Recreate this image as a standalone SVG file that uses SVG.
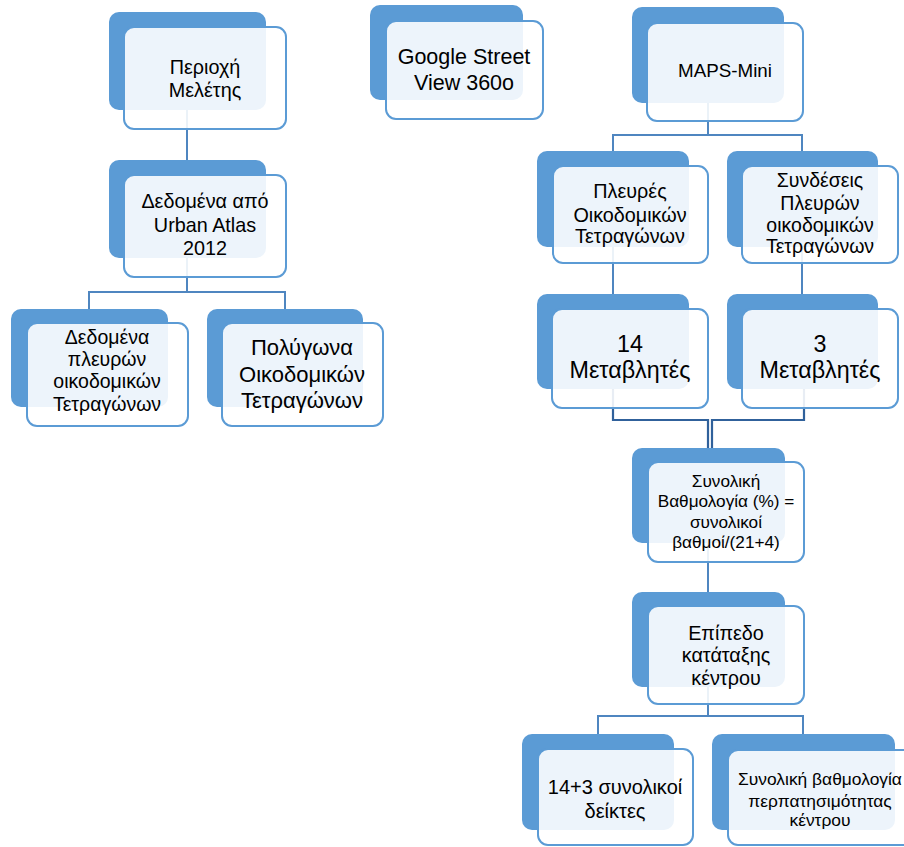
<svg xmlns="http://www.w3.org/2000/svg" width="904" height="847" viewBox="0 0 904 847">
<style>
.bk{fill:#5B9BD5;}
.fr{fill:#FFFFFF;fill-opacity:0.89;stroke:#5B9BD5;stroke-width:2;}
.cn{fill:none;stroke:#4F86C0;stroke-width:2;}
.cd{fill:none;stroke:#30619B;stroke-width:2.2;}
text{font-family:"Liberation Sans","Noto Sans",Arial,sans-serif;fill:#000;text-anchor:middle;}
</style>
<rect width="904" height="847" fill="#FFFFFF"/>
<g id="connectors">
<path class="cn" d="M187,110 V160"/>
<path class="cn" d="M187,258 V292 M89,309 V292 H285 V309"/>
<path class="cn" d="M708,103 V135 M613,151 V135 H802 V151"/>
<path class="cn" d="M613,247 V294 M802,247 V294"/>
<path class="cd" d="M613,389 V420 H708 V448"/>
<path class="cd" d="M804,389 V420 H712 V448"/>
<path class="cn" d="M708,543 V592"/>
<path class="cn" d="M708,687 V716 M598,734 V716 H803 V734"/>
</g>
<g id="n1">
<rect class="bk" x="109" y="12" width="157" height="98" rx="10"/>
<rect class="fr" x="124" y="27" width="162" height="102" rx="10"/>
<text font-size="19.8"><tspan x="205" y="74">Περιοχή</tspan><tspan x="205" y="97">Μελέτης</tspan></text>
</g>
<g id="n2">
<rect class="bk" x="109" y="160" width="157" height="98" rx="10"/>
<rect class="fr" x="124" y="175" width="162" height="102" rx="10"/>
<text font-size="19.8"><tspan x="205" y="208">Δεδομένα από</tspan><tspan x="205" y="232">Urban Atlas</tspan><tspan x="205" y="255">2012</tspan></text>
</g>
<g id="n3">
<rect class="bk" x="11" y="309" width="157" height="98" rx="10"/>
<rect class="fr" x="27" y="323" width="161" height="103" rx="10"/>
<text font-size="19.5"><tspan x="107" y="344">Δεδομένα</tspan><tspan x="107" y="366">πλευρών</tspan><tspan x="107" y="388">οικοδομικών</tspan><tspan x="107" y="411">Τετραγώνων</tspan></text>
</g>
<g id="n4">
<rect class="bk" x="207" y="309" width="156" height="98" rx="10"/>
<rect class="fr" x="222" y="323" width="161" height="103" rx="10"/>
<text font-size="22"><tspan x="302" y="355">Πολύγωνα</tspan><tspan x="302" y="382">Οικοδομικών</tspan><tspan x="302" y="408">Τετραγώνων</tspan></text>
</g>
<g id="n5">
<rect class="bk" x="370" y="5" width="153" height="95" rx="10"/>
<rect class="fr" x="386" y="21" width="157" height="98" rx="10"/>
<text font-size="21.5"><tspan x="464" y="64">Google Street</tspan><tspan x="464" y="90">View 360o</tspan></text>
</g>
<g id="n6">
<rect class="bk" x="632" y="7" width="152" height="96" rx="10"/>
<rect class="fr" x="647" y="23" width="156" height="98" rx="10"/>
<text font-size="18.8"><tspan x="725" y="77">MAPS-Mini</tspan></text>
</g>
<g id="n7">
<rect class="bk" x="537" y="151" width="152" height="96" rx="10"/>
<rect class="fr" x="553" y="166" width="155" height="97" rx="10"/>
<text font-size="19.8"><tspan x="630" y="198">Πλευρές</tspan><tspan x="630" y="222">Οικοδομικών</tspan><tspan x="630" y="243">Τετραγώνων</tspan></text>
</g>
<g id="n8">
<rect class="bk" x="727" y="151" width="151" height="96" rx="10"/>
<rect class="fr" x="742" y="166" width="156" height="97" rx="10"/>
<text font-size="19.5"><tspan x="820" y="187">Συνδέσεις</tspan><tspan x="820" y="210">Πλευρών</tspan><tspan x="820" y="232">οικοδομικών</tspan><tspan x="820" y="253">Τετραγώνων</tspan></text>
</g>
<g id="n9">
<rect class="bk" x="537" y="294" width="152" height="95" rx="10"/>
<rect class="fr" x="552" y="309" width="156" height="99" rx="10"/>
<text font-size="23.3"><tspan x="630" y="352">14</tspan><tspan x="630" y="378">Μεταβλητές</tspan></text>
</g>
<g id="n10">
<rect class="bk" x="727" y="294" width="151" height="95" rx="10"/>
<rect class="fr" x="742" y="309" width="156" height="99" rx="10"/>
<text font-size="23.3"><tspan x="820" y="352">3</tspan><tspan x="820" y="378">Μεταβλητές</tspan></text>
</g>
<g id="n11">
<rect class="bk" x="632" y="448" width="153" height="95" rx="10"/>
<rect class="fr" x="648" y="462" width="156" height="100" rx="10"/>
<text font-size="17.2"><tspan x="726" y="487">Συνολική</tspan><tspan x="726" y="507">Βαθμολογία (%) =</tspan><tspan x="726" y="528">συνολικοί</tspan><tspan x="726" y="548">βαθμοί/(21+4)</tspan></text>
</g>
<g id="n12">
<rect class="bk" x="632" y="592" width="153" height="95" rx="10"/>
<rect class="fr" x="648" y="606" width="156" height="98" rx="10"/>
<text font-size="19.8"><tspan x="726" y="640">Επίπεδο</tspan><tspan x="726" y="662">κατάταξης</tspan><tspan x="726" y="685">κέντρου</tspan></text>
</g>
<g id="n13">
<rect class="bk" x="522" y="734" width="152" height="96" rx="10"/>
<rect class="fr" x="538" y="749" width="155" height="96" rx="10"/>
<text font-size="20"><tspan x="615" y="794">14+3 συνολικοί</tspan><tspan x="615" y="818">δείκτες</tspan></text>
</g>
<g id="n14">
<rect class="bk" x="712" y="734" width="183" height="96" rx="10"/>
<rect class="fr" x="728" y="750" width="186" height="95" rx="10"/>
<text font-size="17.4"><tspan x="820" y="785">Συνολική βαθμολογία</tspan><tspan x="820" y="807">περπατησιμότητας</tspan><tspan x="820" y="826">κέντρου</tspan></text>
</g>
</svg>
